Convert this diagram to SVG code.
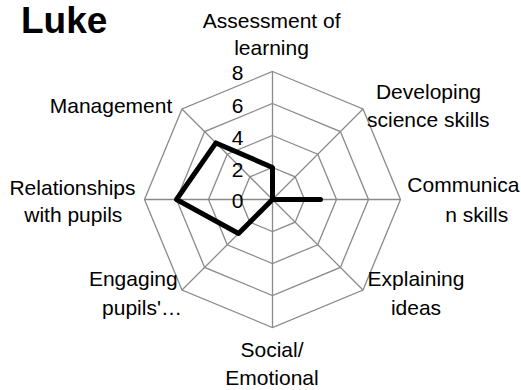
<svg xmlns="http://www.w3.org/2000/svg" width="521" height="390" viewBox="0 0 521 390">
<style>
.grid{fill:none;stroke:#8a8a8a;stroke-width:1.3}
.lbl{font-family:"Liberation Sans",Arial,sans-serif;font-size:21px;fill:#000;text-anchor:middle}
.tick{font-family:"Liberation Sans",Arial,sans-serif;font-size:21px;fill:#000;text-anchor:end}
.series{fill:none;stroke:#000;stroke-width:5;stroke-linejoin:round;stroke-linecap:round}
</style>
<rect width="521" height="390" fill="#fff"/>
<text x="21" y="33" font-family="'Liberation Sans',Arial,sans-serif" font-size="37" font-weight="bold" fill="#000">Luke</text>
<g id="grid">
<polygon class="grid" points="272.5,71.5 363.01,108.99 400.5,199.5 363.01,290.01 272.5,327.5 181.99,290.01 144.5,199.5 181.99,108.99"/>
<polygon class="grid" points="272.5,103.5 340.38,131.62 368.5,199.5 340.38,267.38 272.5,295.5 204.62,267.38 176.5,199.5 204.62,131.62"/>
<polygon class="grid" points="272.5,135.5 317.75,154.25 336.5,199.5 317.75,244.75 272.5,263.5 227.25,244.75 208.5,199.5 227.25,154.25"/>
<polygon class="grid" points="272.5,167.5 295.13,176.87 304.5,199.5 295.13,222.13 272.5,231.5 249.87,222.13 240.5,199.5 249.87,176.87"/>
<path class="grid" d="M272.5,199.5L272.5,71.5M272.5,199.5L363.01,108.99M272.5,199.5L400.5,199.5M272.5,199.5L363.01,290.01M272.5,199.5L272.5,327.5M272.5,199.5L181.99,290.01M272.5,199.5L144.5,199.5M272.5,199.5L181.99,108.99"/>
</g>
<g id="ticks">
<text class="tick" x="243.5" y="80">8</text>
<text class="tick" x="243.5" y="112.5">6</text>
<text class="tick" x="243.5" y="145">4</text>
<text class="tick" x="243.5" y="176.7">2</text>
<text class="tick" x="243.5" y="208.3">0</text>
</g>
<g id="series">
<polygon class="series" points="272.5,167.5 272.5,199.5 320.5,199.5 272.5,199.5 272.5,199.5 238.56,233.44 176.5,199.5 215.93,142.93"/>
</g>
<g id="assessment"><text class="lbl" x="271.7" y="28.3">Assessment of</text><text class="lbl" x="271.5" y="55">learning</text></g>
<g id="developing"><text class="lbl" x="428.5" y="99">Developing</text><text class="lbl" x="428.3" y="127">science skills</text></g>
<g id="communication"><text class="lbl" x="407.3" y="192" text-anchor="start" style="text-anchor:start">Communica</text><text class="lbl" x="476.7" y="222">n skills</text></g>
<g id="explaining"><text class="lbl" x="416" y="286">Explaining</text><text class="lbl" x="416" y="315">ideas</text></g>
<g id="social"><text class="lbl" x="272" y="357">Social/</text><text class="lbl" x="272" y="385">Emotional</text></g>
<g id="engaging"><text class="lbl" x="133.3" y="286">Engaging</text><text class="lbl" x="142" y="315">pupils'…</text></g>
<g id="relationships"><text class="lbl" x="72.5" y="195">Relationships</text><text class="lbl" x="73.3" y="222">with pupils</text></g>
<g id="management"><text class="lbl" x="111" y="113">Management</text></g>
</svg>
